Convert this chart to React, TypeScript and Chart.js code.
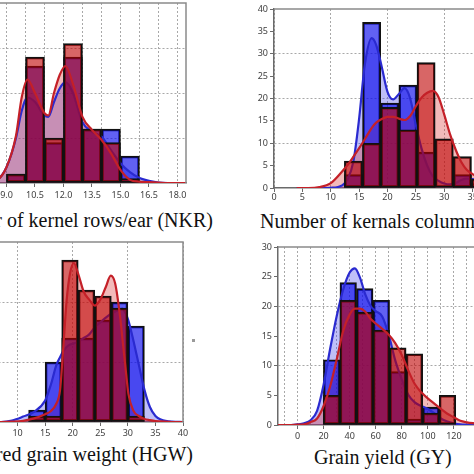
import React, { useEffect, useRef } from "react";
import { Chart, registerables } from "chart.js";

Chart.register(...registerables);

// ---------------- Number of kernel rows / ear (NKR) ----------------
const nkrBinCenters = [9.5, 10.5, 11.5, 12.5, 13.5, 14.5, 15.5];
const nkrRedCounts = [2, 28, 10, 31, 12, 9, 1];
const nkrBlueCounts = [2, 26, 9, 28, 12, 12, 6];
const nkrDensX = [7.5, 8.0, 8.5, 9.0, 9.5, 9.8, 10.1, 10.5, 11.0, 11.2, 11.5, 11.8, 12.1, 12.5, 13.0, 13.5, 14.0, 14.5, 15.0, 15.5, 16.0, 16.5, 17.0, 17.5, 18.0, 18.45];
const nkrDensRed = [0, 0.1, 0.6, 3.5, 10.5, 19, 23, 20, 15.5, 15, 20, 24, 26, 22, 14.7, 11.8, 9.6, 6.6, 2.9, 0.7, 0.3, 0.2, 0.1, 0, 0, 0];
const nkrDensBlue = [0, 0.1, 0.6, 3.5, 10, 16, 19, 18, 15, 14.7, 18, 21, 22.4, 20, 13.5, 11.4, 10.3, 7.3, 4.4, 2.4, 1.1, 0.5, 0.1, 0, 0, 0];

// ---------------- Number of kernals columns / ear (NKC) ----------------
const nkcBinCenters = [14.0, 17.2, 20.4, 23.6, 26.8, 30.0, 33.2, 36.4];
const nkcRedCounts = [6, 10, 18, 13, 28, 11, 7, 2];
const nkcBlueCounts = [3, 37, 19, 23, 8, 0, 3, 1];
const nkcDensX = [4, 6, 8, 10, 12, 13, 14, 15, 16, 17.2, 18, 19, 20, 21, 22, 23, 24, 25, 26, 27, 28, 29, 30, 31, 32, 33, 34, 35, 36, 38, 40];
const nkcDensBlue = [0, 0, 0, 0.05, 0.6, 2, 6, 15.5, 27.5, 33.5, 32, 27, 21.5, 19.8, 21, 22.3, 20, 14, 8.8, 5, 2.6, 1.6, 1.0, 0.8, 1.1, 1.8, 2.1, 2.0, 1.5, 0.4, 0];
const nkcDensRed = [0, 0, 0.2, 1.1, 3.7, 5.2, 7, 8.9, 10.9, 13.4, 14.6, 15.4, 15.9, 15.9, 15.5, 15.2, 16.1, 18.3, 20.2, 21.3, 21.7, 20.3, 16.4, 12.1, 8.6, 5.8, 4.0, 3.1, 2.4, 1.0, 0.3];

// ---------------- Hundred grain weight (HGW) ----------------
const hgwBinCenters = [13.5, 16.5, 19.5, 22.5, 25.5, 28.5, 31.5];
const hgwRedCounts = [1, 1, 27, 22, 21, 19, 1];
const hgwBlueCounts = [2, 10, 14, 14, 17, 20, 16];
const hgwDensX = [5, 7, 9, 11, 13, 15, 16, 17, 17.7, 18.3, 18.9, 19.5, 20.2, 21, 22, 23, 24, 25, 26, 26.9, 27.7, 28.6, 29, 29.5, 30.1, 31, 32, 33, 34, 35, 36, 38, 40];
const hgwDensRed = [0, 0, 0.05, 0.2, 0.6, 1.3, 1.8, 3, 5.3, 12.5, 20.3, 24.7, 26.5, 24.7, 21.7, 20.4, 19.4, 20.4, 22.5, 24.4, 23.1, 17.5, 14, 9.7, 4.7, 1.9, 1.0, 0.5, 0.3, 0.15, 0.1, 0, 0];
const hgwDensBlue = [0, 0, 0.25, 0.9, 1.7, 3.6, 6.1, 9.4, 10.8, 11.8, 12.5, 12.9, 13.1, 13.4, 14, 14.6, 15.8, 16.6, 17.4, 18.0, 18.4, 18.8, 18.9, 18.3, 16.9, 13.6, 9.5, 5.4, 2.5, 1.0, 0.4, 0.05, 0];

// ---------------- Grain yield (GY) ----------------
const gyBinCenters = [26.2, 38.9, 51.6, 64.3, 77.0, 89.7, 102.4, 115.1];
const gyRedCounts = [5, 21, 19, 16, 13, 12, 2, 5];
const gyBlueCounts = [11, 24, 23, 21, 9, 1, 3, 0];
const gyDensX = [-15, -5, 0, 5, 10, 15, 20, 25, 30, 35, 40, 44, 48, 52, 56, 60, 65, 70, 75, 80, 85, 90, 95, 100, 105, 110, 115, 120, 125, 130, 137];
const gyDensBlue = [0, 0, 0.1, 0.3, 0.8, 2.4, 6.8, 12.8, 18.3, 22.8, 25.7, 26.4, 24.8, 22.0, 20.1, 19.2, 18.3, 15.2, 10.9, 7.7, 5.1, 3.8, 3.2, 2.7, 2.0, 1.1, 0.6, 0.3, 0.1, 0.05, 0];
const gyDensRed = [0, 0, 0.05, 0.1, 0.5, 1.1, 3.2, 6.5, 11, 15.8, 18.6, 19.6, 19.6, 19.1, 17.9, 17.1, 16.2, 15.2, 13.8, 11.8, 9.2, 6.9, 5.5, 4.5, 3.6, 2.7, 1.9, 1.3, 0.7, 0.45, 0.25];

// ---------------- Titles ----------------
const titleNKR = "Number of kernel rows/ear (NKR)";
const titleNKC = "Number of kernals columns/ear (NKC)";
const titleHGW = "Hundred grain weight (HGW)";
const titleGY = "Grain yield (GY)";

// ---------------- Styles ----------------
const RED_BAR = "rgba(190,0,0,0.6)";
const BLUE_BAR = "rgba(0,0,235,0.62)";
const RED_FILL = "rgba(215,45,45,0.33)";
const BLUE_FILL = "rgba(60,60,235,0.33)";
const RED_LINE = "#c42028";
const BLUE_LINE = "#2a2ad0";
const BAR_EDGE = "#111111";
const AXIS_COLOR = "#6a6a6a";
const GRID_COLOR = "#a8a8a8";
const TICK_COLOR = "#404040";
const FRAME_COLOR = "#8a8a8a";

type Spec = {
  key: string;
  clip: number[];
  canvas: number[];
  bins: number[];
  red: number[];
  blue: number[];
  densX: number[];
  densRed: number[];
  densBlue: number[];
  xMin: number;
  xMax: number;
  xStep: number;
  xDecimals: number;
  xPad: number;
  gridStep: number;
  yMax: number;
  yStep: number;
  yGrid: number;
};

const specs: Spec[] = [
  {
    key: "nkr", clip: [0, 0, 237, 237], canvas: [-62, -7, 258, 210],
    bins: nkrBinCenters, red: nkrRedCounts, blue: nkrBlueCounts,
    densX: nkrDensX, densRed: nkrDensRed, densBlue: nkrDensBlue,
    xMin: 7.5, xMax: 18.45, xStep: 1.5, xDecimals: 1, xPad: 3, gridStep: 1,
    yMax: 40, yStep: 10, yGrid: 10,
  },
  {
    key: "nkc", clip: [237, 0, 237, 237], canvas: [234, -1, 277, 209],
    bins: nkcBinCenters, red: nkcRedCounts, blue: nkcBlueCounts,
    densX: nkcDensX, densRed: nkcDensRed, densBlue: nkcDensBlue,
    xMin: 0, xMax: 40, xStep: 5, xDecimals: 0, xPad: 0, gridStep: 10,
    yMax: 40, yStep: 5, yGrid: 10,
  },
  {
    key: "hgw", clip: [0, 237, 237, 237], canvas: [-50, 232, 243, 210],
    bins: hgwBinCenters, red: hgwRedCounts, blue: hgwBlueCounts,
    densX: hgwDensX, densRed: hgwDensRed, densBlue: hgwDensBlue,
    xMin: 5, xMax: 40, xStep: 5, xDecimals: 0, xPad: 2, gridStep: 10,
    yMax: 30, yStep: 5, yGrid: 10,
  },
  {
    key: "gy", clip: [237, 237, 237, 237], canvas: [238, 237, 248, 208],
    bins: gyBinCenters, red: gyRedCounts, blue: gyBlueCounts,
    densX: gyDensX, densRed: gyDensRed, densBlue: gyDensBlue,
    xMin: -15, xMax: 137, xStep: 20, xDecimals: 0, xPad: 2, gridStep: 10,
    yMax: 30, yStep: 5, yGrid: 10,
  },
];

const framePlugin = {
  id: "frame",
  afterDatasetsDraw(chart: any) {
    const { ctx, chartArea: a } = chart;
    ctx.save();
    ctx.strokeStyle = FRAME_COLOR;
    ctx.lineWidth = 1.5;
    ctx.beginPath();
    ctx.moveTo(a.left, a.top);
    ctx.lineTo(a.right, a.top);
    ctx.lineTo(a.right, a.bottom);
    ctx.stroke();
    ctx.restore();
  },
};

function buildConfig(s: Spec): any {
  const tickFont = { family: "'Noto Sans', 'DejaVu Sans', sans-serif", size: 9 };
  const pts = (xs: number[], ys: number[]) => xs.map((x, i) => ({ x, y: ys[i] }));
  const barDs = (vals: number[], color: string, order: number, label: string) => ({
    type: "bar",
    label,
    xAxisID: "x",
    yAxisID: "y",
    data: pts(s.bins, vals),
    backgroundColor: color,
    borderColor: BAR_EDGE,
    borderWidth: 1.8,
    borderSkipped: false,
    barPercentage: 1,
    categoryPercentage: 1,
    grouped: false,
    order,
  });
  const lineDs = (vals: number[], line: string, fillColor: string, order: number, label: string) => ({
    type: "line",
    label,
    xAxisID: "x",
    yAxisID: "y",
    data: pts(s.densX, vals),
    borderColor: line,
    backgroundColor: fillColor,
    borderWidth: 2.2,
    fill: "origin",
    pointRadius: 0,
    cubicInterpolationMode: "monotone",
    order,
  });
  return {
    type: "bar",
    data: {
      datasets: [
        barDs(s.blue, BLUE_BAR, 4, "blue histogram"),
        lineDs(s.densBlue, BLUE_LINE, BLUE_FILL, 3, "blue density"),
        barDs(s.red, RED_BAR, 2, "red histogram"),
        lineDs(s.densRed, RED_LINE, RED_FILL, 1, "red density"),
      ],
    },
    options: {
      responsive: false,
      animation: false,
      events: [],
      layout: { padding: { left: 0, right: 10, top: 10, bottom: 0 } },
      plugins: {
        legend: { display: false },
        tooltip: { enabled: false },
        filler: { drawTime: "beforeDatasetsDraw" },
      },
      scales: {
        x: {
          type: "linear",
          position: "bottom",
          offset: false,
          min: s.xMin,
          max: s.xMax,
          ticks: {
            stepSize: s.xStep,
            includeBounds: false,
            autoSkip: false,
            maxRotation: 0,
            font: tickFont,
            color: TICK_COLOR,
            padding: s.xPad,
            callback: (v: any) => Number(v).toFixed(s.xDecimals),
          },
          grid: { offset: false, drawOnChartArea: false, drawTicks: true, tickLength: 4, tickColor: AXIS_COLOR, tickWidth: 1 },
          border: { display: true, color: AXIS_COLOR, width: 1.5 },
          afterFit: (sc: any) => { sc.height = 20; },
        },
        xg: {
          type: "linear",
          position: "bottom",
          offset: false,
          min: s.xMin,
          max: s.xMax,
          ticks: { stepSize: s.gridStep, includeBounds: false, autoSkip: false, display: false },
          grid: { offset: false, drawOnChartArea: true, drawTicks: false, color: GRID_COLOR, lineWidth: 1 },
          border: { display: false, dash: [2, 2] },
          afterFit: (sc: any) => { sc.height = 0; },
        },
        y: {
          type: "linear",
          position: "left",
          min: 0,
          max: s.yMax,
          ticks: { stepSize: s.yStep, autoSkip: false, font: tickFont, color: TICK_COLOR, padding: 2 },
          grid: {
            color: (ctx: any) => {
              const v = ctx.tick ? ctx.tick.value : 0;
              return v > 0 && v < s.yMax && v % s.yGrid === 0 ? GRID_COLOR : "rgba(0,0,0,0)";
            },
            tickColor: AXIS_COLOR,
            tickLength: 4,
            drawTicks: true,
          },
          border: { display: true, color: AXIS_COLOR, width: 1.5, dash: [2, 2] },
          afterFit: (sc: any) => { sc.width = 40; },
        },
      },
    },
    plugins: [framePlugin],
  };
}

function ChartPanel({ spec }: { spec: Spec }) {
  const ref = useRef<HTMLCanvasElement | null>(null);
  useEffect(() => {
    const c = ref.current;
    if (!c) return;
    const chart = new Chart(c, buildConfig(spec));
    return () => chart.destroy();
  }, [spec]);
  const [cx, cy, cw, ch] = spec.clip;
  const [kx, ky, kw, kh] = spec.canvas;
  return (
    <div style={{ position: "absolute", left: cx, top: cy, width: cw, height: ch, overflow: "hidden" }}>
      <canvas
        ref={ref}
        width={kw}
        height={kh}
        style={{ position: "absolute", left: kx - cx, top: ky - cy, width: kw, height: kh }}
      />
    </div>
  );
}

const titleStyle: React.CSSProperties = {
  position: "absolute",
  fontFamily: "'Liberation Serif', 'Times New Roman', serif",
  fontSize: 20,
  lineHeight: "20px",
  color: "#111",
  whiteSpace: "nowrap",
};

export default function App() {
  return (
    <div style={{ position: "fixed", left: 0, top: 0, width: 474, height: 474, overflow: "hidden", background: "#fff" }}>
      {specs.map((s) => (
        <ChartPanel key={s.key} spec={s} />
      ))}
      <div style={{ ...titleStyle, right: 261, top: 210 }}>{titleNKR}</div>
      <div style={{ ...titleStyle, left: 260, top: 211 }}>{titleNKC}</div>
      <div style={{ ...titleStyle, right: 281, top: 444 }}>{titleHGW}</div>
      <div style={{ ...titleStyle, left: 314, top: 447 }}>{titleGY}</div>
      <div style={{ position: "absolute", left: 192, top: 339, width: 3, height: 3, background: "#9a9a9a" }} />
    </div>
  );
}
